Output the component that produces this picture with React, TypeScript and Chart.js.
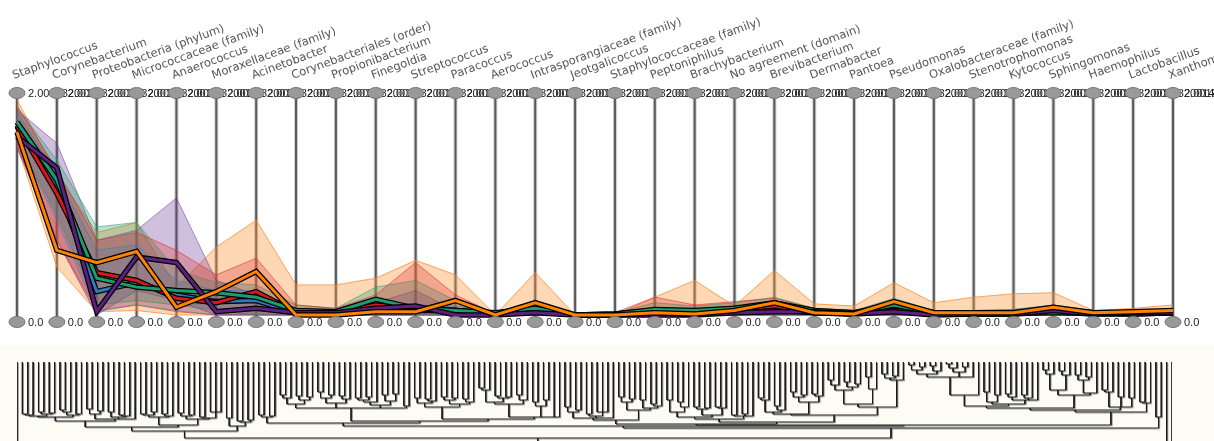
import React, { useEffect, useRef } from "react";
import { Chart, registerables } from "chart.js";
Chart.register(...registerables);

// ---------- parallel coordinates data ----------
const axisLabels = [
  "Staphylococcus", "Corynebacterium", "Proteobacteria (phylum)", "Micrococcaceae (family)",
  "Anaerococcus", "Moraxellaceae (family)", "Acinetobacter", "Corynebacteriales (order)",
  "Propionibacterium", "Finegoldia", "Streptococcus", "Paracoccus", "Aerococcus",
  "Intrasporangiaceae (family)", "Jeotgalicoccus", "Staphylococcaceae (family)", "Peptoniphilus",
  "Brachybacterium", "No agreement (domain)", "Brevibacterium", "Dermabacter", "Pantoea",
  "Pseudomonas", "Oxalobacteraceae (family)", "Stenotrophomonas", "Kytococcus", "Sphingomonas",
  "Haemophilus", "Lactobacillus", "Xanthomonas",
];
const axisMaxLabel = "2.0019820014";
const axisMinLabel = "0.0";
const axisMax = 2.0;

const orangeLine = [1.64,0.58,0.47,0.57,0.07,0.21,0.39,0,0,0.03,0.03,0.13,0,0.11,0,0,0.02,0.01,0.04,0.11,0.02,0.01,0.12,0.02,0.02,0.02,0.07,0.02,0.03,0.04];
const orangeUpper = [1.93,1.26,0.74,0.83,0.25,0.61,0.85,0.27,0.27,0.33,0.49,0.36,0,0.38,0,0,0.16,0.31,0.08,0.40,0.10,0.08,0.29,0.11,0.16,0.19,0.20,0.04,0.06,0.09];
const orangeLower = [1.52,0.43,0.03,0.04,0,0,0.01,0,0,0,0,0,0,0,0,0,0,0,0,0,0,0,0,0,0,0,0,0,0,0];

const purpleLine = [1.60,1.32,0.03,0.52,0.47,0.03,0.06,0.02,0.02,0.06,0.08,0,0,0.02,0,0,0,0,0.02,0.03,0.03,0.01,0.03,0,0.01,0.01,0.04,0.01,0.02,0.02];
const purpleUpper = [1.84,1.54,0.67,0.76,1.05,0.31,0.18,0.04,0.04,0.11,0.22,0.04,0,0.04,0,0,0.03,0.03,0.04,0.06,0.05,0.03,0.09,0.02,0.04,0.05,0.09,0.04,0.04,0.04];
const purpleLower = [1.50,0.67,0,0.22,0.13,0,0,0,0,0,0,0,0,0,0,0,0,0,0,0,0,0,0,0,0,0,0,0,0,0];

const greenLine = [1.73,1.21,0.33,0.25,0.22,0.20,0.16,0.04,0.03,0.14,0.06,0.04,0.02,0.06,0,0.01,0.05,0.04,0.06,0.11,0.04,0.02,0.09,0.02,0.01,0.02,0.02,0.02,0.01,0.02];
const greenUpper = [1.86,1.39,0.79,0.83,0.40,0.29,0.27,0.09,0.06,0.25,0.31,0.13,0.02,0.12,0,0.02,0.11,0.08,0.11,0.16,0.06,0.04,0.15,0.04,0.04,0.05,0.08,0.04,0.03,0.04];
const greenLower = [1.57,0.90,0.09,0.13,0.09,0.04,0,0,0,0,0,0,0,0,0,0,0,0,0,0,0,0,0,0,0,0,0,0,0,0];

const redLine = [1.70,1.09,0.38,0.31,0.15,0.11,0.21,0.02,0.02,0.09,0.06,0.04,0.01,0.05,0,0.01,0.04,0.02,0.05,0.08,0.03,0.02,0.04,0.02,0.02,0.02,0.04,0.02,0.02,0.03];
const redUpper = [1.88,1.30,0.67,0.74,0.58,0.36,0.51,0.09,0.06,0.18,0.47,0.18,0.01,0.11,0,0.02,0.16,0.09,0.12,0.15,0.06,0.04,0.13,0.04,0.04,0.04,0.07,0.04,0.04,0.04];
const redLower = [1.52,0.67,0.04,0.09,0.03,0,0,0,0,0,0,0,0,0,0,0,0,0,0,0,0,0,0,0,0,0,0,0,0,0];

const blueLine = [1.69,1.17,0.21,0.29,0.18,0.12,0.13,0.02,0.02,0.05,0.04,0.04,0.01,0.04,0,0,0.03,0.02,0.04,0.05,0.02,0.01,0.06,0.01,0.01,0.01,0.03,0.01,0.01,0.02];
const blueUpper = [1.82,1.26,0.58,0.63,0.31,0.22,0.22,0.06,0.05,0.10,0.09,0.08,0.02,0.08,0,0.01,0.06,0.05,0.08,0.09,0.04,0.02,0.10,0.02,0.02,0.03,0.05,0.02,0.02,0.03];
const blueLower = [1.57,0.85,0.03,0.09,0.04,0,0,0,0,0,0,0,0,0,0,0,0,0,0,0,0,0,0,0,0,0,0,0,0,0];

// ---------- dendrogram data (leaf = "|", node = "(children)height") ----------
const cA1 = "((((||)52|)53((||)50(||)51)52)54(((||)48|)50(||)52)53)55";
const cA2 = "(((||)47(||)49)52((||)50((||)53|)54)55|)57";
const cB = "((((||)52(||)50)53((||)52|)54)55(((||)51(||)53)54((||)55(|||)50)56)57)63";
const cC = "((||)56((||)59(||)58)60)64";
const cD = "((||)53(||)54)55";
const cE = "((((||)33|)36((||)34(||)35)38)42(((||)30(||)33)36((||)34|)37)41((((||)36(||)35)38|)40((||)33(||)32)39)43(||)44)46";
const cF1 = "(((||)36((||)37|)39)41(((||)35(||)36)38((||)37|)40)42)45";
const cF2 = "(((((||)26|)28((||)34(||)35)36)40((||)33|)38)42((||)40(||)38)44||)55";
const cG = "(((||)45(||)48)50((||)52(|||)50)54|)56";
const cH = "(((||)35(||)37)40((||)38((||)42|)44)46)48";
const cI = "((||)38((||)40|)45)50";
const cJ = "(((||)45(||)46)47((||)45|)46)53";
const cK = "((||)53(||)52|)54";
const cL = "(((||)36|)38((||)44|)48)50";
const cN = "(((||)30(||)33)35((||)32|)34)40";
const cO = "((((||)18|)23((||)20(||)22)25)28((||)15|)27)42";
const cPp = "(((||)12(||)14)16|)18";
const cS = "(((((||)3(||)5)8((||)4|)9)12(((||)2|)6(||)5)10|)15|)33";
const cT = "(((||)30(||)33)40(((||)32|)35((||)33|)36|)38)42";
const cU = "((((||)8|)12((||)9|)13)28(((||)13(||)15)18|)31)33";
const cV = "(((||)28|)30(||)35(||)36)45";
const cW = "((||)40|)41";
const cP = "(||)55";

const leftPart = `(((${cA1}${cA2})59${cB})65${cC})69`;
const qLeft = `(${cD}(${cE}(${cF1}${cF2})57)59)61`;
const midRight = `((${cG}${cH})58(((${cI}${cJ})55${cK})57((${cL}${cN})52(${cO}${cPp})45)53)60)62`;
const farRight = `((((${cS}${cT})44${cU})46${cV})48${cW})50`;
const treeString = `(|(${leftPart}((${qLeft}(${midRight}${farRight})63)64${cP})66)76||)95`;

type TNode = { h: number; kids: TNode[]; x: number };

function parseTree(s: string): TNode {
  let i = 0;
  const node = (): TNode => {
    if (s[i] === "|") { i++; return { h: 0, kids: [], x: 0 }; }
    i++; // '('
    const kids: TNode[] = [];
    while (s[i] !== ")") kids.push(node());
    i++;
    let num = "";
    while (i < s.length && s[i] >= "0" && s[i] <= "9") num += s[i++];
    return { h: Number(num), kids, x: 0 };
  };
  return node();
}

function treeSegments(root: TNode) {
  let leaf = 0;
  const pts: { x: number; y: number | null }[] = [];
  const place = (n: TNode) => {
    if (!n.kids.length) { n.x = leaf++; return; }
    n.kids.forEach(place);
    n.x = (n.kids[0].x + n.kids[n.kids.length - 1].x) / 2;
    pts.push({ x: n.kids[0].x, y: n.h }, { x: n.kids[n.kids.length - 1].x, y: n.h }, { x: n.x, y: null });
    n.kids.forEach((k) => {
      pts.push({ x: k.x, y: k.h }, { x: k.x, y: n.h }, { x: k.x, y: null });
    });
  };
  place(root);
  return { pts, leaves: leaf };
}

const TOP_H = 345;
const W = 1214;

export default function App() {
  const topRef = useRef<HTMLCanvasElement>(null);
  const botRef = useRef<HTMLCanvasElement>(null);

  useEffect(() => {
    document.body.style.margin = "0";
    const series = [
      { line: blueLine, upper: blueUpper, lower: blueLower, color: "#2b7bba", fill: "rgba(43,123,186,0.20)", edge: "rgba(43,123,186,0.45)" },
      { line: redLine, upper: redUpper, lower: redLower, color: "#d7191c", fill: "rgba(215,40,40,0.28)", edge: "rgba(215,40,40,0.55)" },
      { line: greenLine, upper: greenUpper, lower: greenLower, color: "#1b9e6e", fill: "rgba(27,158,110,0.30)", edge: "rgba(27,158,110,0.55)" },
      { line: purpleLine, upper: purpleUpper, lower: purpleLower, color: "#5e1f82", fill: "rgba(110,60,150,0.32)", edge: "rgba(110,60,150,0.55)" },
      { line: orangeLine, upper: orangeUpper, lower: orangeLower, color: "#ff8200", fill: "rgba(253,150,60,0.38)", edge: "rgba(253,130,30,0.7)" },
    ];
    const datasets: any[] = [];
    series.forEach((s) => {
      datasets.push({ data: s.upper, fill: "+1", backgroundColor: s.fill, borderColor: s.edge, borderWidth: 1, pointRadius: 0, order: 100, clip: false });
      datasets.push({ data: s.lower, fill: false, borderColor: s.edge, borderWidth: 1, pointRadius: 0, order: 100, clip: false });
    });
    series.forEach((s, k) => {
      datasets.push({ data: s.line, fill: false, borderColor: "#000", borderWidth: 5.5, pointRadius: 0, order: 50 - 2 * k, clip: false, borderJoinStyle: "miter" });
      datasets.push({ data: s.line, fill: false, borderColor: s.color, borderWidth: 3, pointRadius: 0, order: 49 - 2 * k, clip: false, borderJoinStyle: "miter" });
    });

    const axesPlugin = {
      id: "pcAxes",
      beforeDatasetsDraw(chart: any) {
        const { ctx, chartArea, scales } = chart;
        ctx.save();
        axisLabels.forEach((_, i) => {
          const x = scales.x.getPixelForValue(i);
          ctx.beginPath();
          ctx.moveTo(x, chartArea.top);
          ctx.lineTo(x, chartArea.bottom + 7);
          ctx.strokeStyle = "rgba(160,160,160,0.5)";
          ctx.lineWidth = 4;
          ctx.stroke();
          ctx.strokeStyle = "#5a5a5a";
          ctx.lineWidth = 2;
          ctx.stroke();
        });
        ctx.restore();
      },
      afterDatasetsDraw(chart: any) {
        const { ctx, chartArea, scales } = chart;
        const yTop = chartArea.top + 1;
        const yBot = chartArea.bottom + 7;
        ctx.save();
        ctx.font = "11px 'Liberation Sans', Arial, sans-serif";
        ctx.fillStyle = "#222";
        ctx.textBaseline = "middle";
        ctx.textAlign = "left";
        axisLabels.forEach((_, i) => {
          const x = scales.x.getPixelForValue(i);
          ctx.fillText(axisMaxLabel, x + 11, yTop + 1);
          ctx.fillText(axisMinLabel, x + 11, yBot + 1);
        });
        axisLabels.forEach((_, i) => {
          const x = scales.x.getPixelForValue(i);
          [yTop, yBot].forEach((y) => {
            ctx.beginPath();
            ctx.ellipse(x, y, 8, 5.5, 0, 0, Math.PI * 2);
            ctx.fillStyle = "#999";
            ctx.fill();
            ctx.strokeStyle = "#777";
            ctx.lineWidth = 1;
            ctx.stroke();
          });
        });
        ctx.font = "11.5px 'DejaVu Sans', sans-serif";
        ctx.fillStyle = "#555";
        ctx.textBaseline = "alphabetic";
        axisLabels.forEach((label, i) => {
          const x = scales.x.getPixelForValue(i);
          ctx.save();
          ctx.translate(x - 3, 79);
          ctx.rotate((-20 * Math.PI) / 180);
          ctx.fillText(label, 0, 0);
          ctx.restore();
        });
        ctx.restore();
      },
    };

    const top = new Chart(topRef.current!, {
      type: "line",
      data: { labels: axisLabels, datasets },
      options: {
        responsive: false,
        animation: false,
        devicePixelRatio: 1,
        layout: { padding: { top: 92, bottom: TOP_H - 315, left: 17, right: W - 1173 } },
        plugins: { legend: { display: false }, tooltip: { enabled: false } },
        elements: { line: { tension: 0 } },
        scales: {
          x: { type: "category", display: false, offset: false },
          y: { display: false, min: 0, max: axisMax },
        },
      },
      plugins: [axesPlugin],
    });

    const tree = parseTree(treeString);
    const { pts, leaves } = treeSegments(tree);

    const bgPlugin = {
      id: "bg",
      beforeDraw(chart: any) {
        const { ctx, width, height } = chart;
        ctx.save();
        ctx.fillStyle = "#fcfcf5";
        ctx.fillRect(0, 0, width, height);
        ctx.restore();
      },
      beforeDatasetsDraw(chart: any) {
        const ctx = chart.ctx;
        ctx.save();
        ctx.shadowColor = "rgba(150,150,150,0.85)";
        ctx.shadowOffsetX = 1;
        ctx.shadowOffsetY = 1;
        ctx.shadowBlur = 0;
      },
      afterDatasetsDraw(chart: any) {
        chart.ctx.restore();
      },
    };

    const bottom = new Chart(botRef.current!, {
      type: "line",
      data: {
        datasets: [
          { data: pts as any, borderColor: "#1a1a1a", borderWidth: 1, pointRadius: 0, spanGaps: false, fill: false },
        ],
      },
      options: {
        responsive: false,
        animation: false,
        devicePixelRatio: 1,
        layout: { padding: { top: 17, bottom: 0, left: 17, right: W - 1172 } },
        plugins: { legend: { display: false }, tooltip: { enabled: false } },
        scales: {
          x: { type: "linear", display: false, min: 0, max: leaves - 1 },
          y: { type: "linear", display: false, min: 0, max: 79, reverse: true },
        },
      },
      plugins: [bgPlugin],
    });

    return () => {
      top.destroy();
      bottom.destroy();
    };
  }, []);

  return (
    <div style={{ position: "absolute", left: 0, top: 0, width: W, height: 441, background: "#fff" }}>
      <canvas ref={topRef} width={W} height={TOP_H} style={{ position: "absolute", left: 0, top: 0 }} />
      <canvas ref={botRef} width={W} height={441 - TOP_H} style={{ position: "absolute", left: 0, top: TOP_H }} />
    </div>
  );
}
